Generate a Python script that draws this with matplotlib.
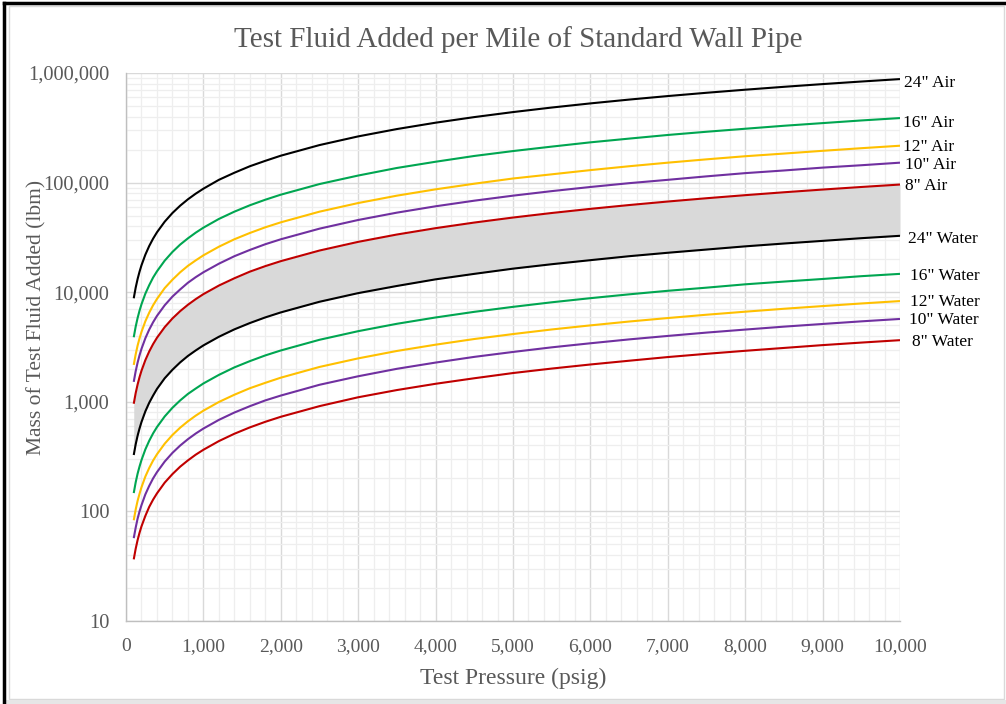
import matplotlib
matplotlib.use('Agg')
import matplotlib.pyplot as plt
from matplotlib.ticker import FuncFormatter, MultipleLocator, LogLocator, NullFormatter
from matplotlib.lines import Line2D
from matplotlib.patches import Rectangle

# Test pressure (psig) where values were read
pressure = [100, 125, 150, 175, 200, 250, 300, 350, 400, 500, 600, 700, 800, 900,
            1000, 1200, 1400, 1600, 1800, 2000, 2500, 3000, 3500, 4000, 4500, 5000,
            5500, 6000, 6500, 7000, 7500, 8000, 8500, 9000, 9500, 10000]

# Mass of test fluid added (lbm)
air_24 = [8800, 11000, 13200, 15400, 17600, 22000, 26400, 30800, 35200, 44000, 52800,
          61600, 70400, 79200, 88000, 106000, 123000, 141000, 158000, 176000, 220000,
          264000, 308000, 352000, 396000, 440000, 484000, 528000, 572000, 616000,
          660000, 704000, 748000, 792000, 836000, 880000]
air_16 = [3880, 4850, 5820, 6790, 7760, 9700, 11600, 13600, 15500, 19400, 23300,
          27200, 31000, 34900, 38800, 46600, 54300, 62100, 69800, 77600, 97000,
          116000, 136000, 155000, 175000, 194000, 213000, 233000, 252000, 272000,
          291000, 310000, 330000, 349000, 369000, 388000]
air_12 = [2170, 2710, 3260, 3800, 4340, 5430, 6510, 7600, 8680, 10900, 13000,
          15200, 17400, 19500, 21700, 26000, 30400, 34700, 39100, 43400, 54300,
          65100, 76000, 86800, 97700, 109000, 119000, 130000, 141000, 152000,
          163000, 174000, 184000, 195000, 206000, 217000]
air_10 = [1520, 1900, 2280, 2660, 3040, 3800, 4560, 5320, 6080, 7600, 9120,
          10600, 12200, 13700, 15200, 18200, 21300, 24300, 27400, 30400, 38000,
          45600, 53200, 60800, 68400, 76000, 83600, 91200, 98800, 106000,
          114000, 122000, 129000, 137000, 144000, 152000]
air_8 = [960, 1200, 1440, 1680, 1920, 2400, 2880, 3360, 3840, 4800, 5760,
         6720, 7680, 8640, 9600, 11500, 13400, 15400, 17300, 19200, 24000,
         28800, 33600, 38400, 43200, 48000, 52800, 57600, 62400, 67200,
         72000, 76800, 81600, 86400, 91200, 96000]
water_24 = [327, 409, 491, 572, 654, 818, 981, 1140, 1310, 1640, 1960,
            2290, 2620, 2940, 3270, 3920, 4580, 5230, 5890, 6540, 8180,
            9810, 11400, 13100, 14700, 16400, 18000, 19600, 21300, 22900,
            24500, 26200, 27800, 29400, 31100, 32700]
water_16 = [147, 184, 221, 257, 294, 368, 441, 515, 588, 735, 882,
            1030, 1180, 1320, 1470, 1760, 2060, 2350, 2650, 2940, 3680,
            4410, 5150, 5880, 6620, 7350, 8090, 8820, 9560, 10300,
            11000, 11800, 12500, 13200, 14000, 14700]
water_12 = [83, 104, 125, 145, 166, 208, 249, 291, 332, 415, 498,
            581, 664, 747, 830, 996, 1160, 1330, 1490, 1660, 2080,
            2490, 2910, 3320, 3740, 4150, 4570, 4980, 5400, 5810,
            6230, 6640, 7060, 7470, 7890, 8300]
water_10 = [57, 71, 86, 100, 114, 143, 171, 200, 228, 285, 342,
            399, 456, 513, 570, 684, 798, 912, 1030, 1140, 1430,
            1710, 2000, 2280, 2570, 2850, 3140, 3420, 3710, 3990,
            4280, 4560, 4850, 5130, 5420, 5700]
water_8 = [36.5, 45.6, 54.8, 63.9, 73, 91, 110, 128, 146, 183, 219,
           256, 292, 329, 365, 438, 511, 584, 657, 730, 913,
           1100, 1280, 1460, 1640, 1830, 2010, 2190, 2370, 2560,
           2740, 2920, 3100, 3290, 3470, 3650]

series = [
    ('24" Air', air_24, '#000000'),
    ('16" Air', air_16, '#00A651'),
    ('12" Air', air_12, '#FFC000'),
    ('10" Air', air_10, '#7030A0'),
    ('8" Air', air_8, '#C00000'),
    ('24" Water', water_24, '#000000'),
    ('16" Water', water_16, '#00A651'),
    ('12" Water', water_12, '#FFC000'),
    ('10" Water', water_10, '#7030A0'),
    ('8" Water', water_8, '#C00000'),
]
# small pixel nudges for the end labels (x, y)
label_offsets = [(4, -4), (3, -5), (3, -1), (5, -2), (5, -1),
                 (8, -3), (10, -2), (10, -1), (9, -1), (12, -2)]

plt.rcParams['font.family'] = ['Liberation Serif', 'DejaVu Serif']
GREY = '#595959'

fig = plt.figure(figsize=(10.06, 7.04), dpi=100)
ax = fig.add_axes([126 / 1006, 1 - 621 / 704, 774 / 1006, 548 / 704])

# shaded band between 8" air and 24" water
ax.fill_between(pressure, water_24, air_8, color='#D9D9D9', linewidth=0, zorder=2)

for (name, vals, col), (dx, dy) in zip(series, label_offsets):
    ax.plot(pressure, vals, color=col, linewidth=1.5, zorder=3, solid_capstyle='butt')
    ax.annotate(name, xy=(pressure[-1], vals[-1]), xytext=(dx, dy),
                textcoords='offset pixels', va='center', ha='left',
                fontsize=12.5, color='black', annotation_clip=False)

ax.set_yscale('log')
ax.set_xlim(0, 10000)
ax.set_ylim(10, 1000000)

ax.xaxis.set_major_locator(MultipleLocator(1000))
ax.xaxis.set_minor_locator(MultipleLocator(200))
ax.yaxis.set_major_locator(LogLocator(base=10))
ax.yaxis.set_minor_locator(LogLocator(base=10, subs=range(2, 10)))
ax.yaxis.set_minor_formatter(NullFormatter())
ax.xaxis.set_major_formatter(FuncFormatter(lambda v, p: f'{v:,.0f}'))
ax.yaxis.set_major_formatter(FuncFormatter(lambda v, p: f'{v:,.0f}'))

ax.grid(True, which='major', color='#D9D9D9', linewidth=1.0, zorder=0)
ax.grid(True, which='minor', color='#EEEEEE', linewidth=0.9, zorder=0)
ax.set_axisbelow(True)

for side in ['top', 'right']:
    ax.spines[side].set_visible(False)
for side in ['left', 'bottom']:
    ax.spines[side].set_color('#BFBFBF')
    ax.spines[side].set_linewidth(1.0)

ax.tick_params(which='both', length=0, labelcolor=GREY)
ax.tick_params(axis='x', pad=12, labelsize=14)
ax.tick_params(axis='y', pad=12, labelsize=14.7)

ax.set_xlabel('Test Pressure (psig)', fontsize=17, color=GREY, labelpad=9.5)
fig.text(37 / 1006, 1 - 317 / 704, 'Mass of Test Fluid Added (lbm)', rotation=90,
         ha='center', va='center', fontsize=15.5, color=GREY)
fig.text(518 / 1006, 1 - 40 / 704, 'Test Fluid Added per Mile of Standard Wall Pipe',
         ha='center', va='center', fontsize=21, color=GREY)

# screenshot frame
fig.add_artist(Line2D([4 / 1006, 4 / 1006], [0, 1 - 3 / 704], color='black', linewidth=2.5,
                      transform=fig.transFigure))
fig.add_artist(Line2D([4 / 1006, 1], [1 - 3 / 704, 1 - 3 / 704], color='black', linewidth=2.5,
                      transform=fig.transFigure))
fig.add_artist(Rectangle((9 / 1006, 5 / 704), 995 / 1006, 693 / 704, fill=False,
                         edgecolor='#D9D9D9', linewidth=1.0, transform=fig.transFigure))
fig.add_artist(Rectangle((6 / 1006, 0), 1000 / 1006, 4 / 704, facecolor='#E6E6E6',
                         edgecolor='none', transform=fig.transFigure))

fig.savefig('out.png', dpi=100)
